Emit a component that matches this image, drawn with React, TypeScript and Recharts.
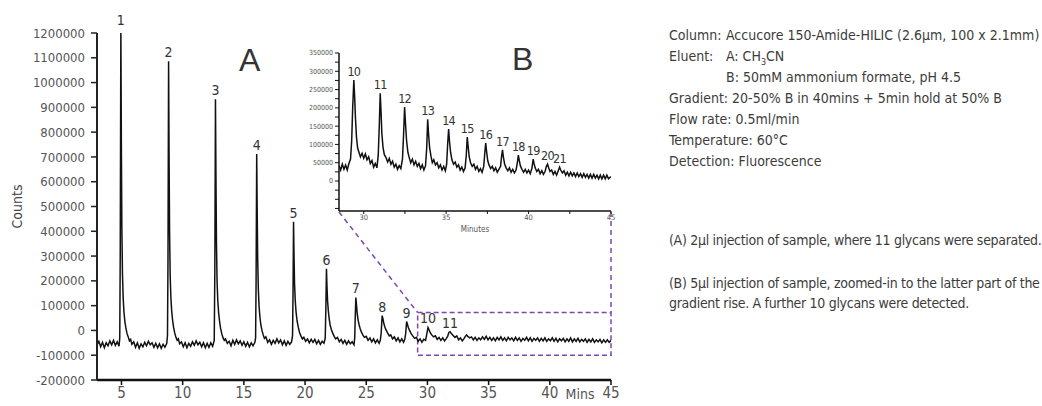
import { LineChart, Line, XAxis, YAxis, ReferenceArea, ReferenceLine, ReferenceDot, Label } from "recharts";

const NARROW = "'Liberation Sans Narrow', 'DejaVu Sans Condensed', 'Roboto', sans-serif";
const PURPLE = "#7b46b5";

// chromatogram A: [minutes, counts / 1000]
const traceA1: [number, number][] = [
  [3.0, -58], [3.15, -44], [3.3, -66], [3.45, -48], [3.6, -70], [3.75, -50], [3.9, -62], [4.05, -42], [4.2, -58], [4.35, -40], [4.5, -60], [4.65, -46], [4.8, -64],
  [4.86, -30], [4.9, 320], [4.95, 1218], [4.99, 760], [5.03, 420], [5.08, 230], [5.14, 130], [5.2, 75], [5.28, 35], [5.36, 10], [5.45, -12], [5.55, -26], [5.65, -42], [5.75, -36], [5.85, -56],
  [6.0, -46], [6.15, -68], [6.3, -50], [6.45, -72], [6.6, -54], [6.75, -66], [6.9, -48], [7.05, -62], [7.2, -44], [7.35, -58], [7.5, -50], [7.65, -68], [7.8, -52], [7.95, -70], [8.1, -54], [8.25, -72], [8.4, -56], [8.55, -68], [8.7, -52],
  [8.76, -20], [8.8, 280], [8.85, 1086], [8.89, 700], [8.93, 400], [8.98, 220], [9.04, 130], [9.1, 80], [9.18, 40], [9.26, 12], [9.35, -10], [9.45, -28], [9.55, -40], [9.65, -34], [9.75, -54],
  [9.9, -46], [10.05, -66], [10.2, -50], [10.35, -70], [10.5, -52], [10.65, -64], [10.8, -46], [10.95, -60], [11.1, -42], [11.25, -58], [11.4, -48], [11.55, -66], [11.7, -50], [11.85, -70], [12.0, -52], [12.15, -68], [12.3, -50], [12.45, -64],
  [12.58, -40], [12.63, 250], [12.68, 933], [12.72, 620], [12.76, 360], [12.81, 200], [12.87, 120], [12.94, 70], [13.02, 35], [13.1, 8], [13.2, -14], [13.3, -30], [13.4, -40], [13.5, -34],
];

const traceA2: [number, number][] = [
  [13.65, -52], [13.8, -44], [13.95, -62], [14.1, -40], [14.25, -56], [14.4, -38], [14.55, -54], [14.7, -42], [14.85, -60], [15.0, -46], [15.15, -64], [15.3, -48], [15.45, -66], [15.6, -50], [15.75, -62], [15.9, -48],
  [15.96, -30], [16.0, 200], [16.05, 712], [16.09, 480], [16.13, 290], [16.18, 170], [16.24, 100], [16.31, 55], [16.39, 22], [16.48, 0], [16.58, -18], [16.68, -32], [16.8, -26], [16.95, -48],
  [17.1, -38], [17.25, -56], [17.4, -40], [17.55, -52], [17.7, -34], [17.85, -50], [18.0, -38], [18.15, -58], [18.3, -42], [18.45, -60], [18.6, -44], [18.75, -56], [18.9, -46],
  [18.98, -20], [19.02, 160], [19.06, 438], [19.1, 300], [19.14, 190], [19.2, 120], [19.27, 72], [19.35, 38], [19.45, 12], [19.55, -8], [19.66, -22], [19.78, -34], [19.9, -28],
  [20.05, -44], [20.2, -34], [20.35, -50], [20.5, -36], [20.65, -48], [20.8, -36], [20.95, -54], [21.1, -40], [21.25, -56], [21.4, -44], [21.55, -52],
  [21.65, -30], [21.7, 90], [21.75, 249], [21.79, 180], [21.84, 120], [21.9, 80], [21.97, 48], [22.05, 22], [22.15, 4], [22.25, -10], [22.38, -24], [22.5, -34], [22.65, -28],
  [22.8, -46], [22.95, -36], [23.1, -52], [23.25, -40], [23.4, -56], [23.55, -42], [23.7, -54], [23.85, -46], [24.0, -58],
  [24.06, -30], [24.1, 50], [24.15, 133], [24.2, 105], [24.26, 70], [24.33, 44], [24.41, 24], [24.5, 8], [24.6, -6], [24.72, -18], [24.85, -28],
  [25.0, -24], [25.15, -40], [25.3, -30], [25.45, -46], [25.6, -34], [25.75, -50], [25.9, -38], [26.05, -52], [26.15, -40],
  [26.22, -10], [26.3, 60], [26.36, 48], [26.43, 30], [26.52, 14], [26.62, 2], [26.74, -10], [26.88, -22],
  [27.0, -18], [27.15, -34], [27.3, -26], [27.45, -42], [27.6, -30], [27.75, -46], [27.9, -34], [28.05, -48], [28.15, -36],
  [28.22, -14], [28.3, 36], [28.36, 26], [28.44, 12], [28.54, 0], [28.66, -12], [28.8, -22], [28.95, -32],
  [29.1, -28], [29.25, -44], [29.4, -34], [29.55, -48], [29.7, -36], [29.85, -40],
];

const traceA3: [number, number][] = [
  [29.95, -14], [30.05, 12], [30.12, 4], [30.22, -8], [30.35, -18], [30.5, -26], [30.65, -22], [30.8, -36], [30.95, -28], [31.1, -40], [31.25, -30], [31.4, -42], [31.55, -32],
  [31.65, -24], [31.75, -8], [31.85, -5], [31.95, -12], [32.1, -20], [32.25, -28], [32.4, -22], [32.55, -38], [32.7, -30], [32.85, -42], [33.0, -32], [33.1, -24], [33.2, -18], [33.3, -24],
  [33.45, -30], [33.6, -26], [33.75, -38], [33.9, -28], [34.05, -40], [34.2, -30], [34.35, -38], [34.5, -26], [34.65, -36], [34.8, -24], [34.95, -38], [35.1, -28], [35.25, -40], [35.4, -30],
  [35.55, -42], [35.7, -28], [35.85, -38], [36.0, -26], [36.15, -40], [36.3, -30], [36.45, -42], [36.6, -28], [36.75, -38], [36.9, -30], [37.05, -42], [37.2, -28], [37.35, -40], [37.5, -30],
  [37.65, -44], [37.8, -32], [37.95, -40], [38.1, -28], [38.25, -42], [38.4, -30], [38.55, -44], [38.7, -32], [38.85, -40], [39.0, -30], [39.15, -44], [39.3, -32], [39.45, -42], [39.6, -30],
  [39.75, -44], [39.9, -34], [40.05, -42], [40.2, -30], [40.35, -44], [40.5, -32], [40.65, -46], [40.8, -34], [40.95, -42], [41.1, -32], [41.25, -46], [41.4, -34], [41.55, -44], [41.7, -30],
  [41.85, -46], [42.0, -34], [42.15, -44], [42.3, -32], [42.45, -46], [42.6, -36], [42.75, -44], [42.9, -34], [43.05, -48], [43.2, -36], [43.35, -46], [43.5, -34], [43.65, -48], [43.8, -38],
  [43.95, -46], [44.1, -36], [44.25, -50], [44.4, -38], [44.55, -48], [44.7, -38], [44.85, -48], [45.0, -40],
];

// chromatogram B (inset): [minutes, counts / 1000]
const traceB: [number, number][] = [
  [28.5, 42], [28.6, 30], [28.7, 46], [28.8, 32], [28.9, 44], [29.0, 30], [29.1, 48], [29.2, 60], [29.27, 110], [29.33, 200], [29.4, 276], [29.45, 230], [29.5, 170], [29.56, 120], [29.63, 90],
  [29.7, 80], [29.8, 66], [29.9, 76], [30.0, 62], [30.1, 74], [30.2, 58], [30.3, 66], [30.4, 48], [30.5, 56], [30.6, 38], [30.7, 48], [30.8, 36],
  [30.88, 70], [30.95, 160], [31.0, 240], [31.05, 190], [31.1, 130], [31.17, 92], [31.25, 72], [31.35, 64], [31.45, 52], [31.55, 62], [31.65, 46], [31.75, 54], [31.85, 38], [31.95, 46], [32.05, 32], [32.15, 42], [32.25, 34],
  [32.35, 60], [32.42, 130], [32.48, 202], [32.53, 160], [32.6, 110], [32.68, 78], [32.76, 64], [32.85, 50], [32.95, 60], [33.05, 44], [33.15, 54], [33.25, 40], [33.35, 48], [33.45, 34], [33.55, 44], [33.65, 30], [33.75, 42],
  [33.82, 90], [33.88, 169], [33.93, 130], [34.0, 90], [34.08, 68], [34.16, 50], [34.25, 58], [34.35, 44], [34.45, 50], [34.55, 36], [34.65, 44], [34.75, 30], [34.85, 40], [34.95, 28],
  [35.03, 46], [35.09, 100], [35.15, 142], [35.2, 110], [35.27, 78], [35.35, 58], [35.45, 46], [35.55, 52], [35.65, 38], [35.75, 44], [35.85, 30], [35.95, 38], [36.05, 26], [36.15, 36],
  [36.22, 70], [36.28, 120], [36.33, 96], [36.4, 66], [36.48, 50], [36.58, 40], [36.68, 46], [36.78, 32], [36.88, 40], [36.98, 26], [37.08, 34], [37.18, 24], [37.28, 40],
  [37.35, 80], [37.4, 104], [37.45, 82], [37.52, 56], [37.6, 44], [37.7, 34], [37.8, 40], [37.9, 28], [38.0, 36], [38.1, 24], [38.2, 32], [38.3, 40],
  [38.37, 70], [38.42, 85], [38.47, 66], [38.55, 46], [38.64, 36], [38.74, 28], [38.84, 36], [38.94, 24], [39.04, 32], [39.14, 22], [39.24, 30],
  [39.32, 50], [39.38, 71], [39.43, 58], [39.5, 42], [39.6, 32], [39.7, 24], [39.8, 32], [39.9, 22], [40.0, 30], [40.1, 20], [40.2, 34],
  [40.28, 60], [40.33, 48], [40.4, 36], [40.5, 26], [40.6, 32], [40.7, 20], [40.8, 28], [40.9, 18], [41.0, 26],
  [41.08, 40], [41.15, 46], [41.22, 36], [41.3, 26], [41.4, 30], [41.5, 18], [41.6, 26], [41.7, 16], [41.8, 28], [41.88, 38], [41.95, 30],
  [42.05, 22], [42.15, 28], [42.25, 16], [42.35, 24], [42.45, 14], [42.55, 24], [42.65, 14], [42.75, 22], [42.85, 12], [42.95, 22], [43.05, 12], [43.15, 20],
  [43.25, 10], [43.35, 20], [43.45, 10], [43.55, 18], [43.65, 8], [43.75, 18], [43.85, 8], [43.95, 18], [44.05, 8], [44.15, 16], [44.25, 6], [44.35, 16],
  [44.45, 6], [44.55, 16], [44.65, 6], [44.75, 16], [44.85, 6], [45.0, 12],
];

const peakNumbersA = ["1", "2", "3", "4", "5", "6", "7", "8", "9", "10", "11"];
const peakTimesA = [4.95, 8.85, 12.68, 16.05, 19.06, 21.75, 24.15, 26.3, 28.3, 30.05, 31.85];
const peakTopsA = [1218, 1086, 933, 712, 438, 249, 133, 60, 36, 12, -5];

const peakNumbersB = ["10", "11", "12", "13", "14", "15", "16", "17", "18", "19", "20", "21"];
const peakTimesB = [29.4, 31.0, 32.48, 33.88, 35.15, 36.28, 37.4, 38.42, 39.38, 40.28, 41.15, 41.88];
const peakTopsB = [276, 240, 202, 169, 142, 120, 104, 85, 71, 60, 46, 38];

const ticksXA = [5, 10, 15, 20, 25, 30, 35, 40, 45];
const ticksYA = [-200000, -100000, 0, 100000, 200000, 300000, 400000, 500000, 600000, 700000, 800000, 900000, 1000000, 1100000, 1200000];
const ticksXB = [30, 32.5, 35, 37.5, 40, 42.5, 45];
const ticksYB = [-75000, -50000, -25000, 0, 25000, 50000, 75000, 100000, 125000, 150000, 175000, 200000, 225000, 250000, 275000, 300000, 325000, 350000];

// zoom box drawn on chromatogram A
const zoomBox = { x1: 29.2, x2: 45, y1: -100000, y2: 72000 };
const insetCornerA = { left: 22.77, right: 45, y: 478000 };

const conditions = [
  ["Column:", "Accucore 150-Amide-HILIC (2.6µm, 100 x 2.1mm)"],
  ["Eluent:", "A: CH|3|CN"],
  ["", "B: 50mM ammonium formate, pH 4.5"],
];
const conditionLines = [
  "Gradient: 20-50% B in 40mins + 5min hold at 50% B",
  "Flow rate: 0.5ml/min",
  "Temperature: 60°C",
  "Detection: Fluorescence",
];

const rowsA = [...traceA1, ...traceA2, ...traceA3].map(([t, v]) => ({ t, v: v * 1000 }));
const rowsB = traceB.map(([t, v]) => ({ t, v: v * 1000 }));

function CountsLabel(props: any) {
  const vb = props.viewBox;
  const cy = vb.y + vb.height / 2;
  return (
    <text x={17} y={cy} transform={`rotate(-90, 17, ${cy})`} textAnchor="middle" dominantBaseline="central" fill="#444" fontSize={14} fontFamily={NARROW}>
      Counts
    </text>
  );
}

function MinsLabel(props: any) {
  const vb = props.viewBox;
  return (
    <text x={vb.x + vb.width - 31} y={vb.y + 14} textAnchor="middle" dominantBaseline="central" fill="#555" fontSize={14} fontFamily={NARROW}>
      Mins
    </text>
  );
}

function MinutesLabel(props: any) {
  const vb = props.viewBox;
  return (
    <text x={vb.x + vb.width / 2} y={vb.y + 18} textAnchor="middle" dominantBaseline="central" fill="#555" fontSize={8} fontFamily={NARROW}>
      Minutes
    </text>
  );
}

function ElutionLine({ text }: { text: string }) {
  const parts = text.split("|");
  if (parts.length === 1) return <>{text}</>;
  return (
    <>
      {parts[0]}
      <span style={{ fontSize: 9, verticalAlign: -4, lineHeight: 0 }}>{parts[1]}</span>
      {parts[2]}
    </>
  );
}

export default function App() {
  return (
    <div style={{ position: "absolute", left: 0, top: 0, width: 1042, height: 406, overflow: "hidden", background: "#fff", fontFamily: NARROW }}>
      <div style={{ position: "absolute", left: 0, top: 0 }}>
        <LineChart width={620} height={406} data={rowsA} margin={{ top: 33, right: 9, bottom: 0, left: 0 }}>
          <XAxis
            type="number"
            dataKey="t"
            domain={[3, 45]}
            ticks={ticksXA}
            allowDataOverflow
            height={26}
            tickSize={5}
            tickMargin={2}
            axisLine={{ stroke: "#111", strokeWidth: 2.5 }}
            tickLine={{ stroke: "#111", strokeWidth: 1.5 }}
            tick={{ fill: "#555", fontSize: 15, fontFamily: NARROW }}
          >
            <Label content={<MinsLabel />} />
          </XAxis>
          <YAxis
            type="number"
            domain={[-200000, 1200000]}
            ticks={ticksYA}
            allowDataOverflow
            width={97}
            tickSize={6}
            tickMargin={6}
            axisLine={{ stroke: "#222", strokeWidth: 2 }}
            tickLine={{ stroke: "#222", strokeWidth: 1.5 }}
            tick={{ fill: "#555", fontSize: 13, fontFamily: NARROW }}
          >
            <Label content={<CountsLabel />} />
          </YAxis>
          <ReferenceArea x1={zoomBox.x1} x2={zoomBox.x2} y1={zoomBox.y1} y2={zoomBox.y2} fill="none" stroke={PURPLE} strokeWidth={1.5} strokeDasharray="5 3" />
          <ReferenceLine segment={[{ x: insetCornerA.left, y: insetCornerA.y }, { x: zoomBox.x1, y: zoomBox.y2 }]} stroke={PURPLE} strokeWidth={1.5} strokeDasharray="5 4" ifOverflow="visible" />
          <ReferenceLine segment={[{ x: insetCornerA.right, y: insetCornerA.y }, { x: zoomBox.x2, y: zoomBox.y2 }]} stroke={PURPLE} strokeWidth={1.5} strokeDasharray="5 4" ifOverflow="visible" />
          <Line type="linear" dataKey="v" stroke="#111" strokeWidth={1.5} dot={false} isAnimationActive={false} />
          {peakNumbersA.map((n, i) => (
            <ReferenceDot
              key={n}
              x={peakTimesA[i]}
              y={peakTopsA[i] * 1000}
              r={1}
              fill="none"
              stroke="none"
              ifOverflow="visible"
              label={{ value: n, position: "top", offset: 3, fill: "#333", fontSize: 14, fontFamily: NARROW }}
            />
          ))}
        </LineChart>
      </div>

      <div style={{ position: "absolute", left: 290, top: 40 }}>
        <LineChart width={330} height={200} data={rowsB} margin={{ top: 13, right: 9, bottom: 0, left: 0 }}>
          <XAxis
            type="number"
            dataKey="t"
            domain={[28.5, 45]}
            ticks={ticksXB}
            allowDataOverflow
            height={29}
            tickSize={3}
            tickMargin={1}
            tickFormatter={(v: number) => (v % 5 === 0 ? String(v) : "")}
            axisLine={{ stroke: "#111", strokeWidth: 1.5 }}
            tickLine={{ stroke: "#111" }}
            tick={{ fill: "#555", fontSize: 7.5, fontFamily: NARROW }}
          >
            <Label content={<MinutesLabel />} />
          </XAxis>
          <YAxis
            type="number"
            domain={[-82000, 350000]}
            ticks={ticksYB}
            allowDataOverflow
            width={49}
            tickSize={4}
            tickMargin={2}
            tickFormatter={(v: number) => (v >= 0 && v % 50000 === 0 ? String(v) : "")}
            axisLine={{ stroke: "#111", strokeWidth: 1.5 }}
            tickLine={{ stroke: "#111" }}
            tick={{ fill: "#555", fontSize: 7, fontFamily: NARROW }}
          />
          <Line type="linear" dataKey="v" stroke="#111" strokeWidth={1.5} dot={false} isAnimationActive={false} />
          {peakNumbersB.map((n, i) => (
            <ReferenceDot
              key={n}
              x={peakTimesB[i]}
              y={peakTopsB[i] * 1000}
              r={1}
              fill="none"
              stroke="none"
              ifOverflow="visible"
              label={{ value: n, position: "top", offset: 3, fill: "#333", fontSize: 12.5, fontFamily: NARROW, letterSpacing: -0.7 }}
            />
          ))}
        </LineChart>
      </div>

      <div style={{ position: "absolute", left: 239, top: 44, fontSize: 32, color: "#333", fontFamily: "'Liberation Sans', sans-serif", lineHeight: "32px" }}>A</div>
      <div style={{ position: "absolute", left: 512, top: 43, fontSize: 32, color: "#333", fontFamily: "'Liberation Sans', sans-serif", lineHeight: "32px" }}>B</div>

      <div style={{ position: "absolute", left: 669, top: 25, fontSize: 14, lineHeight: "21px", color: "#3c3c3c", whiteSpace: "nowrap" }}>
        {conditions.map(([k, v], i) => (
          <div key={i} style={{ position: "relative", height: 21 }}>
            <span>{k}</span>
            <span style={{ position: "absolute", left: 57 }}>
              <ElutionLine text={v} />
            </span>
          </div>
        ))}
        {conditionLines.map((l) => (
          <div key={l}>{l}</div>
        ))}
      </div>

      <div style={{ position: "absolute", left: 669, top: 230, fontSize: 14, lineHeight: "20px", color: "#3c3c3c", whiteSpace: "nowrap", letterSpacing: -0.3 }}>
        <div>(A) 2µl injection of sample, where 11 glycans were separated.</div>
        <div style={{ marginTop: 23 }}>(B) 5µl injection of sample, zoomed-in to the latter part of the</div>
        <div>gradient rise. A further 10 glycans were detected.</div>
      </div>
    </div>
  );
}
